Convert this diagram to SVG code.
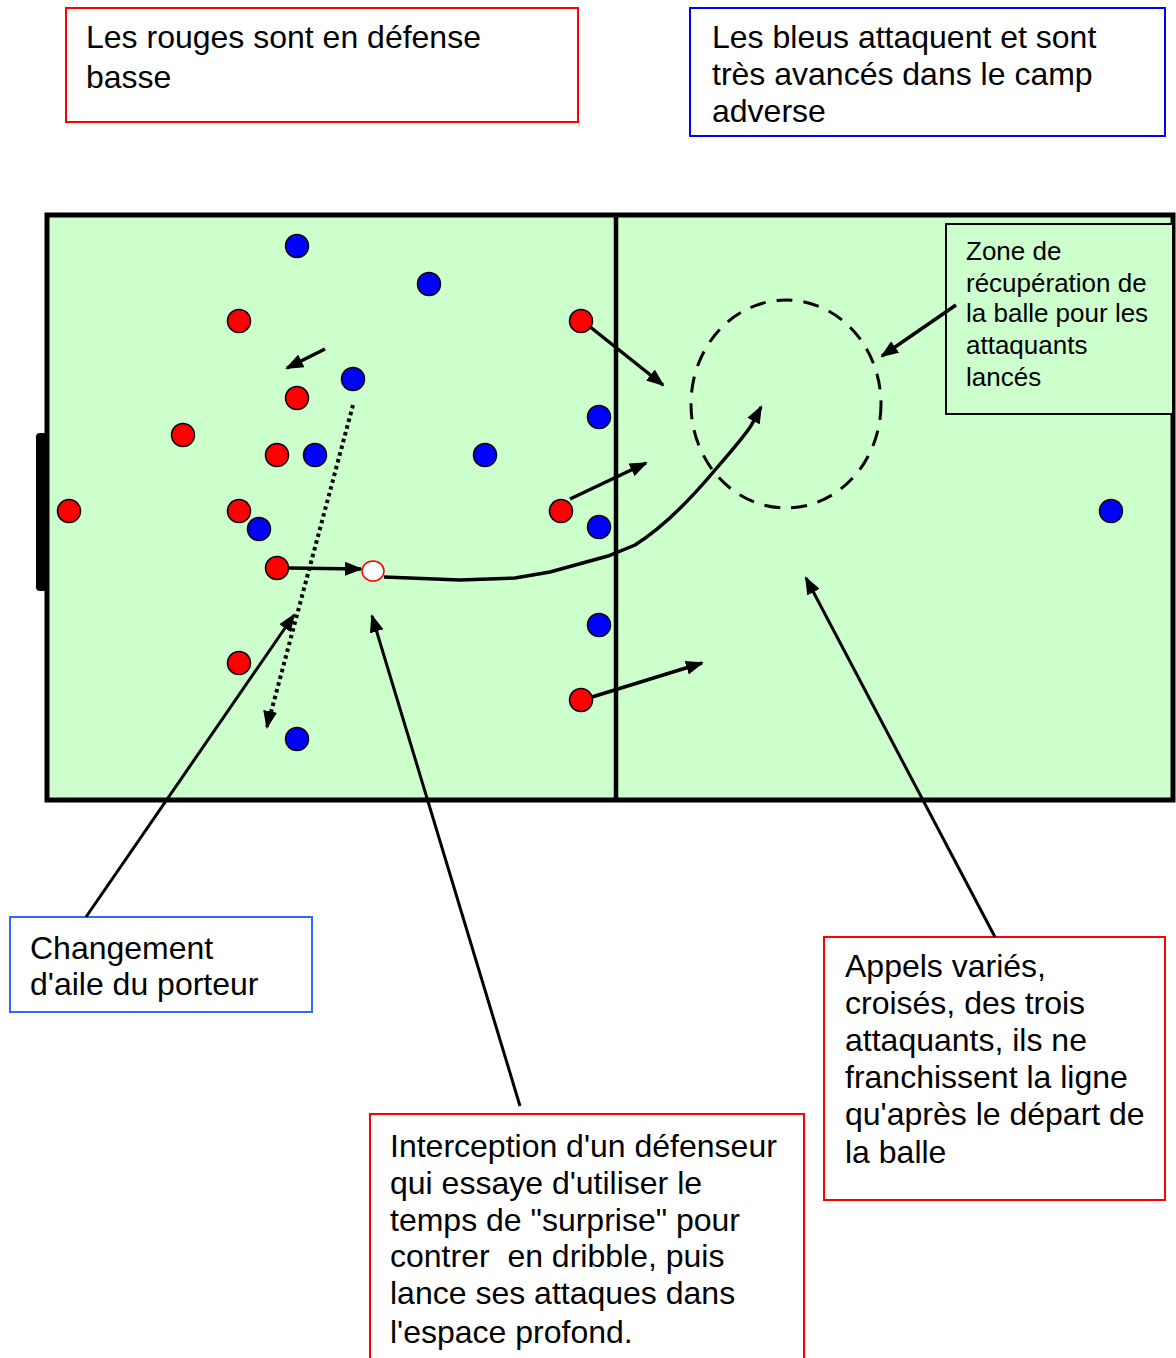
<svg xmlns="http://www.w3.org/2000/svg" width="1176" height="1358" viewBox="0 0 1176 1358">
<style>
.t{font-family:"Liberation Sans",Arial,sans-serif;font-size:32px;fill:#000}
.tz{font-family:"Liberation Sans",Arial,sans-serif;font-size:26px;fill:#000}
.r{fill:#ff0000;stroke:#000;stroke-width:1.5}
.b{fill:#0000ff;stroke:#000;stroke-width:1.5}
.ar{fill:none;stroke:#000;stroke-width:3.5;marker-end:url(#ah)}
.cl{fill:none;stroke:#000;stroke-width:3;marker-end:url(#ah)}
</style>
<defs>
<marker id="ah" markerUnits="userSpaceOnUse" markerWidth="18" markerHeight="14" refX="16" refY="7" orient="auto">
<path d="M0,0 L18,7 L0,14 z" fill="#000"/>
</marker>
</defs>
<rect width="1176" height="1358" fill="#fff"/>
<g id="field">
<rect x="47" y="215" width="1126" height="585" fill="#ccffcc" stroke="#000" stroke-width="5"/>
<line x1="616" y1="215" x2="616" y2="800" stroke="#000" stroke-width="4.5"/>
<rect x="36" y="433" width="12" height="158" rx="4" fill="#000"/>
<ellipse cx="786" cy="404" rx="95" ry="104" fill="none" stroke="#000" stroke-width="3" stroke-dasharray="16 11"/>
</g>
<g id="box-rouges">
<rect x="66" y="8" width="512" height="114" fill="#fff" stroke="#ff0000" stroke-width="2"/>
<text class="t" x="86" y="48">Les rouges sont en défense</text>
<text class="t" x="86" y="88">basse</text>
</g>
<g id="box-bleus">
<rect x="690" y="8" width="475" height="128" fill="#fff" stroke="#0000ff" stroke-width="2"/>
<text class="t" x="712" y="48">Les bleus attaquent et sont</text>
<text class="t" x="712" y="85">très avancés dans le camp</text>
<text class="t" x="712" y="122">adverse</text>
</g>
<g id="box-zone">
<rect x="946" y="224" width="227" height="190" fill="#ccffcc" stroke="#000" stroke-width="2"/>
<text class="tz" x="966" y="260">Zone de</text>
<text class="tz" x="966" y="292">récupération de</text>
<text class="tz" x="966" y="322">la balle pour les</text>
<text class="tz" x="966" y="354">attaquants</text>
<text class="tz" x="966" y="386">lancés</text>
</g>
<g id="box-changement">
<rect x="10" y="917" width="302" height="95" fill="#fff" stroke="#3366ff" stroke-width="2"/>
<text class="t" x="30" y="959">Changement</text>
<text class="t" x="30" y="995">d'aile du porteur</text>
</g>
<g id="box-interception">
<rect x="370" y="1114" width="434" height="260" fill="#fff" stroke="#ff0000" stroke-width="2"/>
<text class="t" x="390" y="1157">Interception d'un défenseur</text>
<text class="t" x="390" y="1194">qui essaye d'utiliser le</text>
<text class="t" x="390" y="1231">temps de "surprise" pour</text>
<text class="t" x="390" y="1267" xml:space="preserve">contrer  en dribble, puis</text>
<text class="t" x="390" y="1304">lance ses attaques dans</text>
<text class="t" x="390" y="1343">l'espace profond.</text>
</g>
<g id="box-appels">
<rect x="824" y="937" width="341" height="263" fill="#fff" stroke="#ff0000" stroke-width="2"/>
<text class="t" x="845" y="977">Appels variés,</text>
<text class="t" x="845" y="1014">croisés, des trois</text>
<text class="t" x="845" y="1051">attaquants, ils ne</text>
<text class="t" x="845" y="1088">franchissent la ligne</text>
<text class="t" x="845" y="1125">qu'après le départ de</text>
<text class="t" x="845" y="1163">la balle</text>
</g>
<g id="connectors">
<line class="ar" x1="325" y1="349" x2="287" y2="368"/>
<line x1="353" y1="405" x2="270" y2="716" stroke="#000" stroke-width="4" stroke-dasharray="3.5 3.5"/>
<path d="M270,712 L267,727" class="ar"/>
<line class="ar" x1="289" y1="568" x2="361" y2="569"/>
<path class="ar" d="M384,577 L460,580 L515,578 L550,572 L608,556 L635,545 C662,528 690,500 715,470 C735,447 748,432 752,424 L761,407"/>
<line class="ar" x1="589" y1="326" x2="663" y2="385"/>
<line class="ar" x1="570" y1="499" x2="646" y2="463"/>
<line class="ar" x1="592" y1="697" x2="702" y2="663"/>
<line class="ar" x1="956" y1="305" x2="882" y2="356"/>
<line class="cl" x1="86" y1="917" x2="294" y2="615"/>
<line class="cl" x1="520" y1="1106" x2="372" y2="616" stroke-width="2.5"/>
<line class="cl" x1="995" y1="937" x2="806" y2="578"/>
</g>
<g id="players">
<circle class="b" cx="297" cy="246" r="11.5"/>
<circle class="b" cx="429" cy="284" r="11.5"/>
<circle class="b" cx="353" cy="379" r="11.5"/>
<circle class="b" cx="599" cy="417" r="11.5"/>
<circle class="b" cx="315" cy="455" r="11.5"/>
<circle class="b" cx="485" cy="455" r="11.5"/>
<circle class="b" cx="259" cy="529" r="11.5"/>
<circle class="b" cx="599" cy="527" r="11.5"/>
<circle class="b" cx="599" cy="625" r="11.5"/>
<circle class="b" cx="297" cy="739" r="11.5"/>
<circle class="b" cx="1111" cy="511" r="11.5"/>
<circle class="r" cx="239" cy="321" r="11.5"/>
<circle class="r" cx="297" cy="398" r="11.5"/>
<circle class="r" cx="183" cy="435" r="11.5"/>
<circle class="r" cx="277" cy="455" r="11.5"/>
<circle class="r" cx="69" cy="511" r="11.5"/>
<circle class="r" cx="239" cy="511" r="11.5"/>
<circle class="r" cx="561" cy="511" r="11.5"/>
<circle class="r" cx="277" cy="568" r="11.5"/>
<circle class="r" cx="239" cy="663" r="11.5"/>
<circle class="r" cx="581" cy="321" r="11.5"/>
<circle class="r" cx="581" cy="700" r="11.5"/>
<ellipse id="ball" cx="373" cy="571" rx="11" ry="10" fill="#fff" stroke="#ff0000" stroke-width="1.5"/>
</g>
</svg>
